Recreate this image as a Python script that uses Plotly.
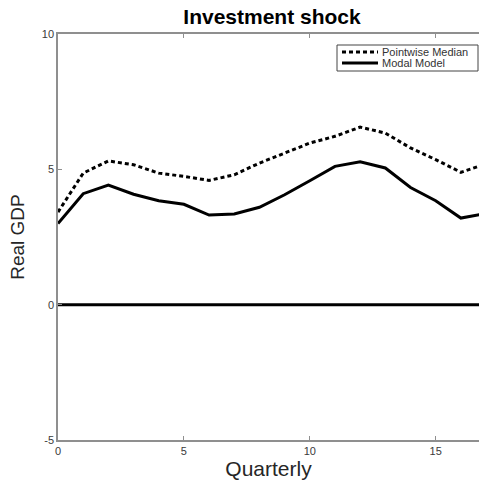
import plotly.graph_objects as go

quarters = list(range(0, 18))
pointwise_median = [3.42, 4.86, 5.31, 5.17, 4.86, 4.74, 4.59, 4.80, 5.23, 5.60,
                    5.97, 6.22, 6.56, 6.34, 5.79, 5.36, 4.89, 5.20]
modal_model = [3.00, 4.10, 4.42, 4.08, 3.84, 3.71, 3.31, 3.35, 3.60, 4.06,
               4.58, 5.11, 5.28, 5.05, 4.33, 3.84, 3.20, 3.37]
zero_line = [0.0] * len(quarters)
series_names = ["Pointwise Median", "Modal Model"]

x_ticks = [0, 5, 10, 15]
y_ticks = [-5, 0, 5, 10]
y_tick_text = ["-5", "0", "5", "10"]

W, H = 479, 484
ML, MR, MT, MB = 58, 0, 34, 44
DOT = "4px,3px"

fig = go.Figure()
fig.add_trace(go.Scatter(x=quarters, y=zero_line, mode="lines",
                         line=dict(color="black", width=3), showlegend=False))
fig.add_trace(go.Scatter(x=quarters, y=pointwise_median, mode="lines",
                         name=series_names[0], showlegend=False,
                         line=dict(color="black", width=3, dash=DOT)))
fig.add_trace(go.Scatter(x=quarters, y=modal_model, mode="lines",
                         name=series_names[1], showlegend=False,
                         line=dict(color="black", width=3)))


# compact boxed legend placed in the upper-right corner of the axes
def px_x(p):
    return (p - ML) / (W - ML - MR)


def px_y(p):
    return (H - MB - p) / (H - MT - MB)


fig.add_shape(type="rect", xref="paper", yref="paper",
              x0=px_x(337), x1=px_x(478), y0=px_y(71), y1=px_y(45),
              line=dict(color="#444444", width=1), fillcolor="white", layer="above")
for name, dash, row_y in zip(series_names, [DOT, "solid"], [52, 63]):
    fig.add_shape(type="line", xref="paper", yref="paper",
                  x0=px_x(342), x1=px_x(378), y0=px_y(row_y), y1=px_y(row_y),
                  line=dict(color="black", width=3, dash=dash), layer="above")
    fig.add_annotation(text=name, xref="paper", yref="paper",
                       x=px_x(380), y=px_y(row_y), xanchor="left", yanchor="middle",
                       showarrow=False, font=dict(size=11, color="#333333"))

axis_color = "#8f8f8f"
tick_font = dict(size=11, color="#3a3a3a")
fig.update_layout(
    width=W, height=H,
    margin=dict(l=ML, r=MR, t=MT, b=MB),
    paper_bgcolor="white", plot_bgcolor="white",
    font=dict(family="Liberation Sans, Arial", color="#262626"),
    showlegend=False,
    title=dict(text="<b>Investment shock</b>", font=dict(size=21, color="black"),
               x=272 / W, xref="container", xanchor="center",
               y=1 - 17 / H, yref="container", yanchor="middle"),
    xaxis=dict(range=[0, 16.72], tickvals=x_ticks, ticks="inside", ticklen=4,
               tickcolor=axis_color, showline=True, linecolor=axis_color,
               linewidth=1.5, mirror="ticks", showgrid=False, zeroline=False,
               tickfont=tick_font,
               title=dict(text="Quarterly", font=dict(size=21, color="#262626"),
                          standoff=3)),
    yaxis=dict(range=[-5, 10], tickvals=y_ticks, ticktext=y_tick_text,
               ticks="inside", ticklen=4,
               tickcolor=axis_color, showline=True, linecolor=axis_color,
               linewidth=1.5, mirror=False, showgrid=False, zeroline=False,
               tickfont=tick_font,
               title=dict(text="Real GDP", font=dict(size=19, color="#262626"),
                          standoff=12)),
)

fig.write_html("out.html")
